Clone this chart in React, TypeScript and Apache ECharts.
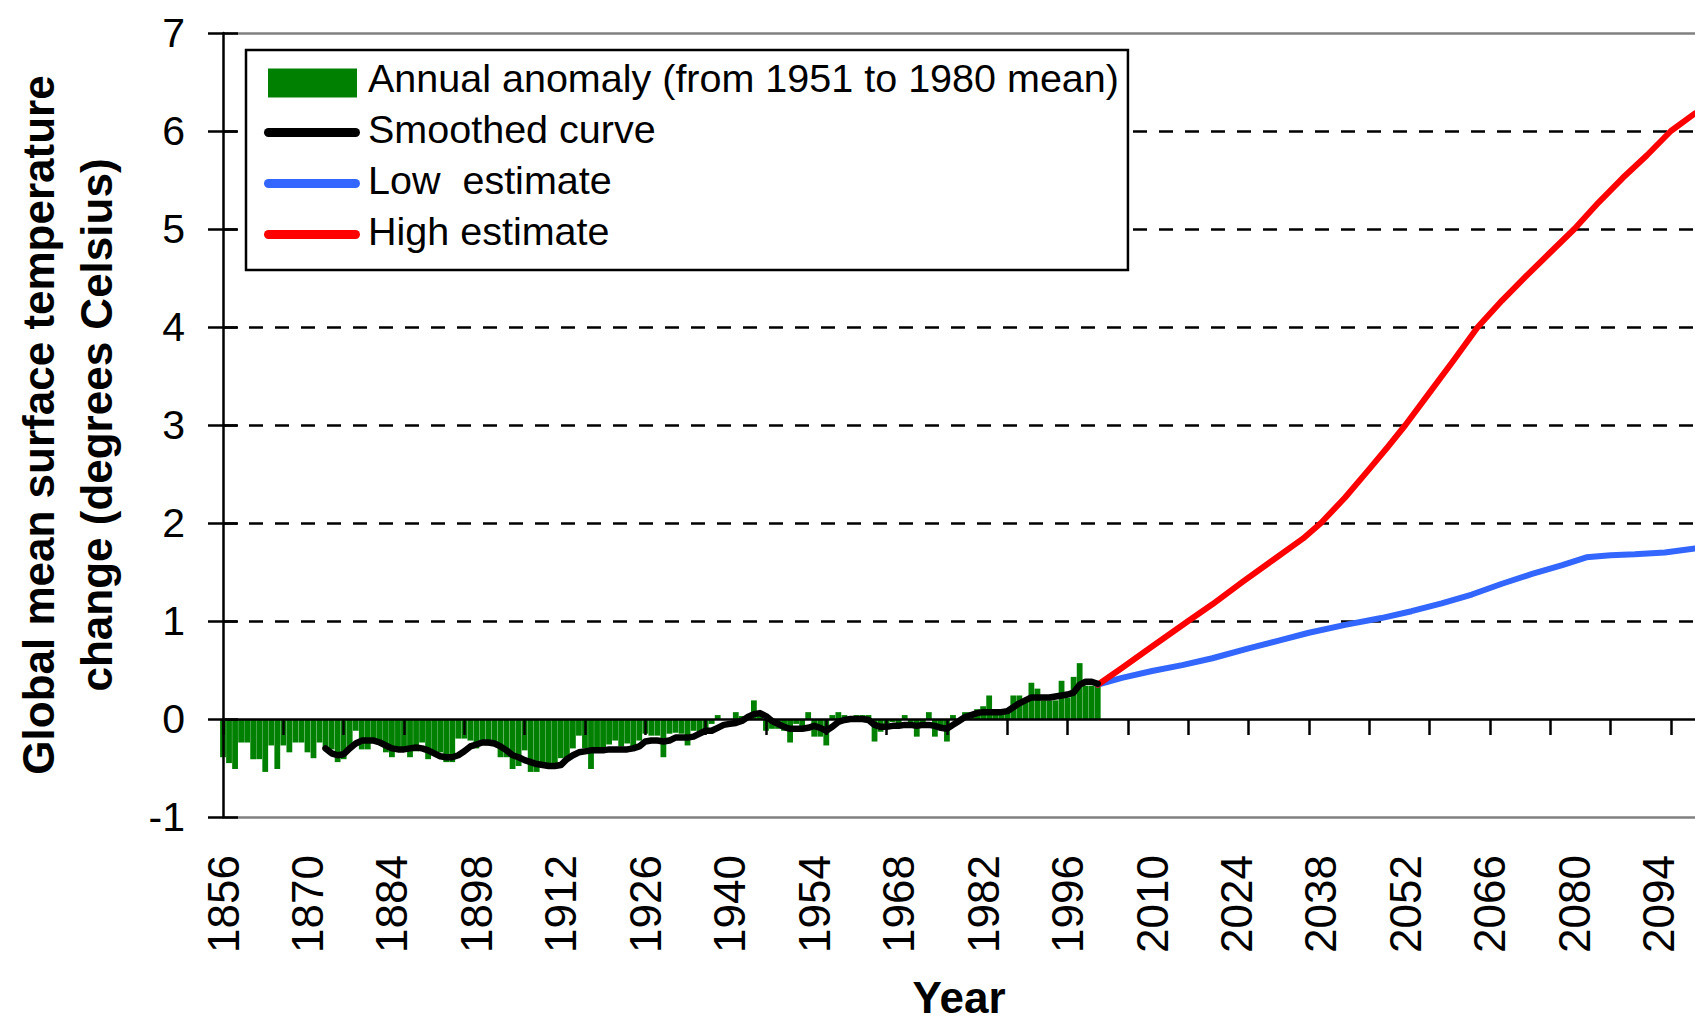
import React, { useEffect, useRef } from "react";
import * as echarts from "echarts";

const FONT = '"Liberation Sans", Arial, Helvetica, sans-serif';

// Category axis: every year from 1856 to 2100
const firstYear = 1856;
const lastYear = 2100;
const years: string[] = [];
for (let y = firstYear; y <= lastYear; y++) years.push(String(y));

// Annual anomaly (from 1951 to 1980 mean), 1856 – 2001
const annualStart = 1856;
const annualAnomaly = [
  -0.39, -0.45, -0.51, -0.24, -0.24, -0.41, -0.41, -0.54, -0.27, -0.51, // 1856-1865
  -0.27, -0.34, -0.24, -0.24, -0.34, -0.40, -0.24, -0.31, -0.31, -0.44, // 1866-1875
  -0.41, -0.30, -0.12, -0.31, -0.31, -0.24, -0.24, -0.34, -0.39, -0.31, // 1876-1885
  -0.31, -0.39, -0.33, -0.24, -0.41, -0.34, -0.34, -0.44, -0.44, -0.20, // 1886-1895
  -0.20, -0.22, -0.30, -0.24, -0.27, -0.27, -0.39, -0.39, -0.51, -0.48, // 1896-1905
  -0.32, -0.54, -0.54, -0.47, -0.45, -0.47, -0.40, -0.40, -0.30, -0.17, // 1906-1915
  -0.30, -0.51, -0.31, -0.31, -0.26, -0.22, -0.28, -0.25, -0.28, -0.22, // 1916-1925
  -0.15, -0.17, -0.17, -0.39, -0.15, -0.14, -0.15, -0.27, -0.12, -0.15, // 1926-1935
  -0.12, -0.05, 0.04, -0.01, 0.0, 0.07, 0.03, 0.03, 0.19, 0.05, // 1936-1945
  -0.12, -0.1, -0.1, -0.12, -0.24, -0.05, -0.08, 0.07, -0.18, -0.18, // 1946-1955
  -0.27, 0.04, 0.07, 0.04, 0.0, 0.04, 0.04, 0.04, -0.23, -0.13, // 1956-1965
  -0.05, -0.03, -0.07, 0.04, -0.03, -0.18, -0.05, 0.07, -0.18, -0.1, // 1966-1975
  -0.23, 0.04, -0.02, 0.07, 0.07, 0.1, 0.13, 0.24, 0.1, 0.05, // 1976-1985
  0.1, 0.24, 0.24, 0.17, 0.37, 0.31, 0.19, 0.19, 0.19, 0.39, // 1986-1995
  0.22, 0.43, 0.57, 0.34, 0.34, 0.38, // 1996-2001
];

// Smoothed curve, 1873 – 2001
const smoothStart = 1873;
const smoothedCurve = [
  -0.3, -0.35, -0.37, -0.36, -0.3, -0.25, -0.22, -0.22, -0.22, -0.24, // 1873-1882
  -0.27, -0.3, -0.31, -0.31, -0.3, -0.29, -0.3, -0.32, -0.35, -0.38, // 1883-1892
  -0.39, -0.39, -0.37, -0.33, -0.28, -0.26, -0.24, -0.24, -0.25, -0.28, // 1893-1902
  -0.32, -0.37, -0.39, -0.42, -0.44, -0.46, -0.47, -0.48, -0.48, -0.47, // 1903-1912
  -0.41, -0.37, -0.34, -0.33, -0.32, -0.32, -0.32, -0.31, -0.31, -0.31, // 1913-1922
  -0.31, -0.3, -0.28, -0.23, -0.22, -0.22, -0.23, -0.22, -0.19, -0.19, // 1923-1932
  -0.19, -0.18, -0.15, -0.12, -0.12, -0.09, -0.06, -0.05, -0.04, -0.02, // 1933-1942
  0.02, 0.05, 0.06, 0.03, -0.02, -0.05, -0.08, -0.1, -0.1, -0.1, // 1943-1952
  -0.09, -0.07, -0.09, -0.12, -0.08, -0.03, -0.01, 0.0, 0.0, 0.0, // 1953-1962
  -0.01, -0.06, -0.08, -0.08, -0.07, -0.07, -0.06, -0.06, -0.07, -0.06, // 1963-1972
  -0.06, -0.07, -0.09, -0.1, -0.06, -0.02, 0.02, 0.04, 0.06, 0.07, // 1973-1982
  0.07, 0.07, 0.07, 0.08, 0.12, 0.16, 0.19, 0.22, 0.22, 0.22, // 1983-1992
  0.22, 0.23, 0.24, 0.25, 0.27, 0.35, 0.38, 0.38, 0.36, // 1993-2001
];

// Low estimate projection
const lowYears = [2001, 2005, 2010, 2015, 2020, 2026, 2031, 2036, 2042, 2048, 2053, 2058, 2063, 2068, 2073, 2078, 2082, 2086, 2090, 2095, 2100];
const lowValues = [0.35, 0.42, 0.49, 0.55, 0.62, 0.72, 0.8, 0.88, 0.96, 1.03, 1.1, 1.18, 1.27, 1.38, 1.48, 1.57, 1.65, 1.67, 1.68, 1.7, 1.74];

// High estimate projection
const highYears = [2001, 2005, 2010, 2016, 2020, 2025, 2030, 2035, 2038, 2042, 2046, 2049, 2052, 2056, 2060, 2064, 2068, 2072, 2076, 2080, 2084, 2088, 2092, 2096, 2100];
const highValues = [0.35, 0.52, 0.74, 1.0, 1.17, 1.4, 1.62, 1.84, 2.0, 2.26, 2.55, 2.77, 3.0, 3.33, 3.66, 4.0, 4.27, 4.52, 4.76, 5.0, 5.27, 5.52, 5.75, 6.0, 6.18];

// Y axis
const yMin = -1;
const yMax = 7;
const yStep = 1;
const dashedLevels = [1, 2, 3, 4, 5, 6];

const seriesNames = [
  "Annual anomaly (from 1951 to 1980 mean)",
  "Smoothed curve",
  "Low  estimate",
  "High estimate",
];

const padSeries = (start: number, vals: number[]) =>
  years.map((y) => {
    const k = Number(y) - start;
    return k >= 0 && k < vals.length ? vals[k] : null;
  });

const pairs = (ys: number[], vs: number[]) => ys.map((y, i) => [String(y), vs[i]]);

// legend icons (bounding box 99 x 39 kept by moveTo points; marks sit in the lower part)
const ICON_RECT = "path://M0,0M4,10h89v29h-89zM99,39";
const ICON_LINE =
  "path://M0,0M4.5,18.5H91.5A4.5,4.5 0 0 1 91.5,27.5H4.5A4.5,4.5 0 0 1 4.5,18.5ZM99,39";

export default function App() {
  const ref = useRef<HTMLDivElement>(null);

  useEffect(() => {
    if (!ref.current) return;
    const chart = echarts.init(ref.current, null, { renderer: "svg" });

    const option: any = {
      animation: false,
      backgroundColor: "#ffffff",
      textStyle: { fontFamily: FONT },
      grid: {
        left: 223,
        right: 0,
        top: 33,
        bottom: 203,
        containLabel: false,
        outerBoundsMode: "none",
      },
      legend: {
        orient: "vertical",
        left: 246,
        top: 50,
        z: 20,
        padding: [8, 9, 19, 18],
        itemWidth: 99,
        itemHeight: 39,
        itemGap: 11,
        borderColor: "#000000",
        borderWidth: 2.5,
        backgroundColor: "#ffffff",
        selectedMode: false,
        itemStyle: { borderWidth: 0 },
        textStyle: {
          fontSize: 39.5,
          fontFamily: FONT,
          color: "#000000",
        },
        data: [
          { name: seriesNames[0], icon: ICON_RECT },
          { name: seriesNames[1], icon: ICON_LINE },
          { name: seriesNames[2], icon: ICON_LINE },
          { name: seriesNames[3], icon: ICON_LINE },
        ],
      },
      xAxis: [
        {
          type: "category",
          data: years,
          boundaryGap: false,
          z: 5,
          axisLine: { show: true, onZero: true, lineStyle: { color: "#000000", width: 2.5 } },
          axisTick: { show: true, interval: 9, length: 16, lineStyle: { color: "#000000", width: 2.5 } },
          axisLabel: { show: false },
          splitLine: { show: false },
        },
        {
          type: "category",
          data: years,
          boundaryGap: false,
          position: "bottom",
          z: 4,
          axisLine: { show: true, onZero: false, lineStyle: { color: "#808080", width: 2.7 } },
          axisTick: { show: false },
          axisLabel: {
            show: true,
            interval: 13,
            rotate: 90,
            margin: 38,
            fontSize: 44,
            fontFamily: FONT,
            color: "#000000",
          },
          splitLine: { show: false },
          name: "Year",
          nameLocation: "middle",
          nameGap: 158,
          nameMoveOverlap: false,
          nameTextStyle: { fontSize: 44, fontWeight: "bold", fontFamily: FONT, color: "#000000" },
        },
      ],
      yAxis: [
        {
          type: "value",
          position: "left",
          min: yMin,
          max: yMax,
          interval: yStep,
          z: 5,
          axisLine: { show: true, onZero: false, lineStyle: { color: "#000000", width: 2.5 } },
          axisTick: { show: true, inside: false, length: 15, lineStyle: { color: "#000000", width: 2.5 } },
          axisLabel: {
            show: true,
            margin: 38,
            fontSize: 41,
            fontFamily: FONT,
            color: "#000000",
            padding: [0, 0, 12, 0],
          },
          splitLine: { show: false },
          name: "Global mean surface temperature\nchange (degrees Celsius)",
          nameLocation: "middle",
          nameRotate: 90,
          nameGap: 97,
          nameMoveOverlap: false,
          nameTextStyle: {
            fontSize: 44,
            fontWeight: "bold",
            fontFamily: FONT,
            color: "#000000",
            lineHeight: 58.5,
            align: "center",
          },
        },
        {
          type: "value",
          position: "left",
          min: yMin,
          max: yMax,
          interval: yStep,
          z: 5,
          axisLine: { show: false },
          axisTick: { show: true, inside: true, length: 15, lineStyle: { color: "#000000", width: 2.5 } },
          axisLabel: { show: false },
          splitLine: { show: false },
        },
      ],
      series: [
        {
          name: seriesNames[0],
          type: "bar",
          xAxisIndex: 0,
          yAxisIndex: 0,
          data: padSeries(annualStart, annualAnomaly),
          barCategoryGap: "4%",
          itemStyle: { color: "#008000" },
          emphasis: { disabled: true },
          z: 1,
          markLine: {
            silent: true,
            z: 2,
            symbol: ["none", "none"],
            label: { show: false },
            lineStyle: { color: "#000000", type: [14, 12], width: 2.5 },
            data: [
              ...dashedLevels.map((v) => ({ yAxis: v })),
              { yAxis: yMax, lineStyle: { color: "#808080", type: "solid", width: 2.7 } },
            ],
          },
        },
        {
          name: seriesNames[1],
          type: "line",
          xAxisIndex: 0,
          yAxisIndex: 0,
          data: padSeries(smoothStart, smoothedCurve),
          symbol: "none",
          showSymbol: false,
          itemStyle: { color: "#000000" },
          lineStyle: { color: "#000000", width: 6.5, cap: "round", join: "round" },
          emphasis: { disabled: true },
          z: 4,
        },
        {
          name: seriesNames[2],
          type: "line",
          xAxisIndex: 0,
          yAxisIndex: 0,
          data: pairs(lowYears, lowValues),
          symbol: "none",
          showSymbol: false,
          itemStyle: { color: "#3366FF" },
          lineStyle: { color: "#3366FF", width: 6, cap: "round", join: "round" },
          emphasis: { disabled: true },
          z: 3,
        },
        {
          name: seriesNames[3],
          type: "line",
          xAxisIndex: 0,
          yAxisIndex: 0,
          data: pairs(highYears, highValues),
          symbol: "none",
          showSymbol: false,
          itemStyle: { color: "#FF0000" },
          lineStyle: { color: "#FF0000", width: 6, cap: "round", join: "round" },
          emphasis: { disabled: true },
          z: 3,
        },
      ],
    };

    chart.setOption(option);
    return () => chart.dispose();
  }, []);

  return (
    <div
      ref={ref}
      style={{ position: "absolute", left: 0, top: 0, width: 1695, height: 1020, background: "#ffffff" }}
    />
  );
}
